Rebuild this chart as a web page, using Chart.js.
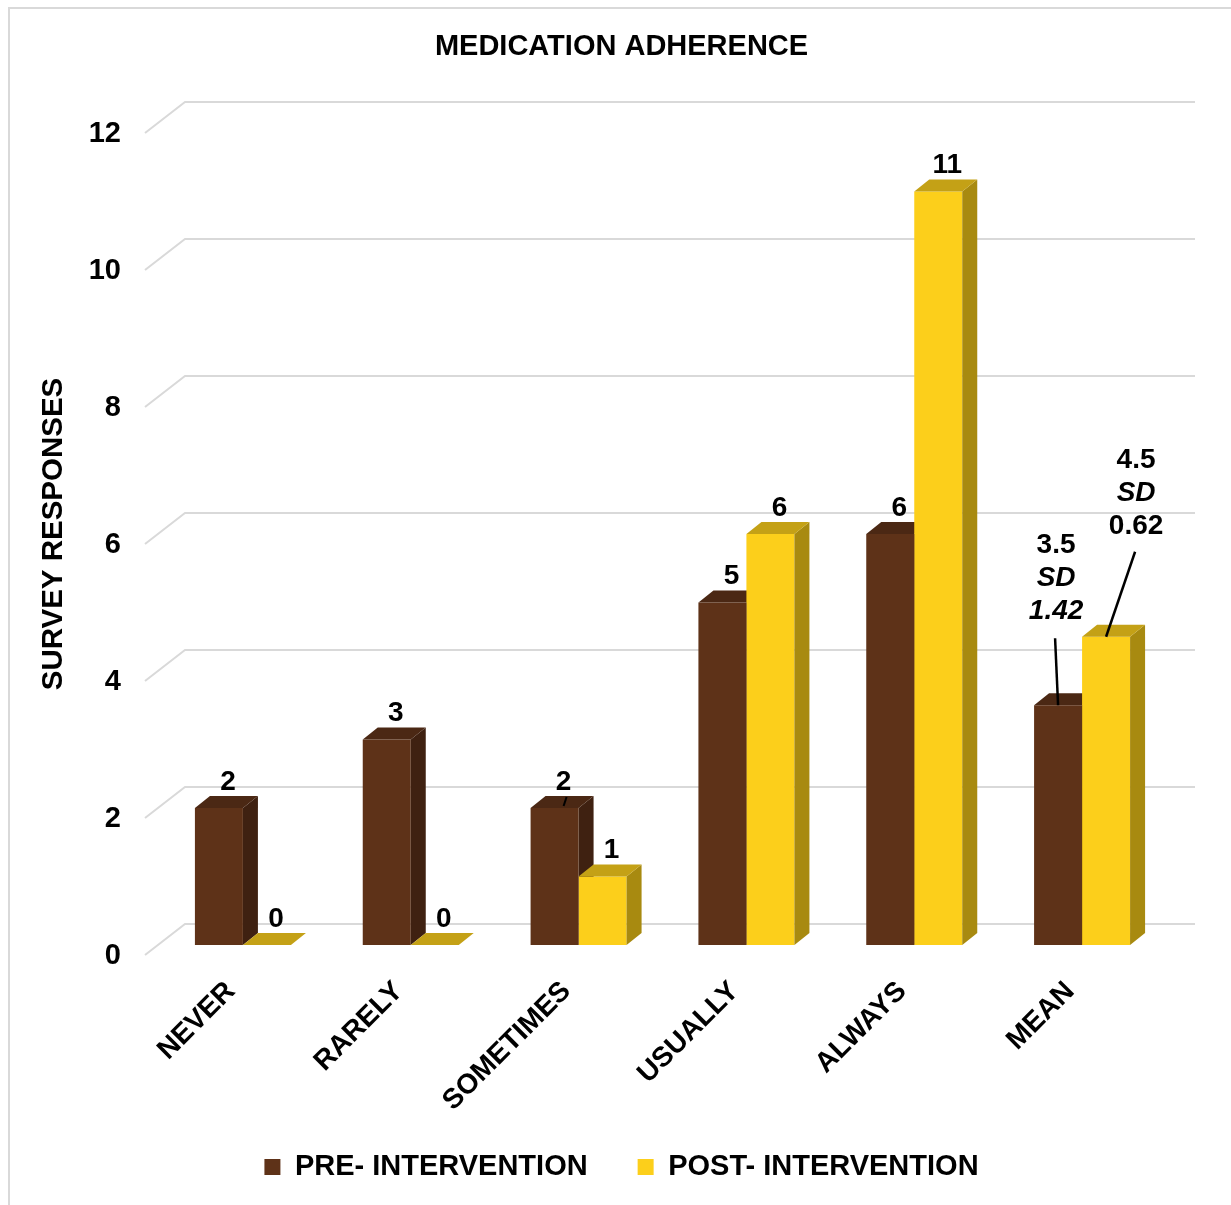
<!DOCTYPE html>
<html>
<head>
<meta charset="utf-8">
<title>Medication adherence</title>
<script src="https://cdn.jsdelivr.net/npm/chart.js@4.4.1/dist/chart.umd.min.js"></script>
<style>
  html, body { margin: 0; padding: 0; background: #fff; overflow: hidden; }
  /* thin frame that shows at the top and left edge of the picture */
  #frame { position: absolute; left: 8px; top: 7px; width: 1240px; height: 1210px;
           border-top: 2px solid #d9d9d9; border-left: 2px solid #d9d9d9; }
  #wrap { position: absolute; left: 0; top: 0; width: 1231px; height: 1205px; }
</style>
</head>
<body>
<div id="frame"></div>
<div id="wrap"><canvas id="chart"></canvas></div>
<script>
// data
const categories = ['NEVER', 'RARELY', 'SOMETIMES', 'USUALLY', 'ALWAYS', 'MEAN'];
const seriesNames = ['PRE- INTERVENTION', 'POST- INTERVENTION'];
const preValues = [2, 3, 2, 5, 6, 3.5];
const postValues = [0, 0, 1, 6, 11, 4.5];
const meanSD = [1.42, 0.62];
const yTicks = [0, 2, 4, 6, 8, 10, 12];

const FONT = '"Liberation Sans", Arial, Helvetica, sans-serif';

// front, side, top colours of the boxes
const preColors = ['#5e3218', '#3f2111', '#4b2814'];
const postColors = ['#fccf1b', '#a88a10', '#c4a116'];

// fake 3D depth of a bar
const depthX = 15, depthY = -12;

Chart.defaults.color = '#000';
Chart.defaults.font.family = FONT;

function face(ctx, pts, color) {
  ctx.beginPath();
  ctx.moveTo(pts[0][0], pts[0][1]);
  for (let i = 1; i < pts.length; i++) ctx.lineTo(pts[i][0], pts[i][1]);
  ctx.closePath();
  ctx.fillStyle = color;
  ctx.fill();
}

// side and top of every bar of one dataset
function drawDepth(chart, index, colors) {
  const ctx = chart.ctx;
  chart.getDatasetMeta(index).data.forEach(bar => {
    const p = bar.getProps(['x', 'y', 'base', 'width'], true);
    const l = p.x - p.width / 2, r = p.x + p.width / 2, t = p.y, b = p.base;
    if (b - t > 0.5) {
      face(ctx, [[r, t], [r + depthX, t + depthY], [r + depthX, b + depthY], [r, b]], colors[1]);
    }
    face(ctx, [[l, t], [l + depthX, t + depthY], [r + depthX, t + depthY], [r, t]], colors[2]);
  });
}

const boxes3d = {
  id: 'boxes3d',
  beforeDatasetsDraw(chart) {
    const ctx = chart.ctx, area = chart.chartArea, y = chart.scales.y;
    ctx.save();
    // back wall gridlines with their slanted part on the left side wall
    ctx.strokeStyle = '#d9d9d9';
    ctx.lineWidth = 2;
    yTicks.forEach(v => {
      const py = y.getPixelForValue(v);
      ctx.beginPath();
      ctx.moveTo(area.left - 14, py + 10);
      ctx.lineTo(area.left + 26, py - 21);
      ctx.lineTo(area.right + 29, py - 21);
      ctx.stroke();
    });
    // pre bars go first so the post bars cover them
    drawDepth(chart, 0, preColors);
    ctx.restore();
  },
  afterDatasetsDraw(chart) {
    const ctx = chart.ctx;
    ctx.save();
    drawDepth(chart, 1, postColors);

    // value labels
    ctx.fillStyle = '#000';
    ctx.textAlign = 'center';
    ctx.textBaseline = 'middle';
    ctx.strokeStyle = '#000';
    const last = categories.length - 1;
    [preValues, postValues].forEach((vals, d) => {
      const bars = chart.getDatasetMeta(d).data;
      vals.forEach((v, i) => {
        if (i === last) return;
        const p = bars[i].getProps(['x', 'y'], true);
        ctx.font = 'bold 28px ' + FONT;
        ctx.fillText(String(v), p.x + 9, p.y - 26);
      });
    });
    // the label of SOMETIMES / pre has a tiny leader in the original
    const sp = chart.getDatasetMeta(0).data[2].getProps(['x', 'y'], true);
    ctx.lineWidth = 2;
    ctx.beginPath();
    ctx.moveTo(sp.x + 12, sp.y - 11);
    ctx.lineTo(sp.x + 9, sp.y - 2);
    ctx.stroke();

    // mean labels with SD and leader lines
    const meanSpec = [
      { lx: -2, ly: -160, sx: -3, sy: -67, italic: [false, true, true] },
      { lx: 30, ly: -176, sx: 29, sy: -85, italic: [false, true, false] }
    ];
    [preValues, postValues].forEach((vals, d) => {
      const p = chart.getDatasetMeta(d).data[last].getProps(['x', 'y'], true);
      const s = meanSpec[d];
      const lines = [String(vals[last]), 'SD', meanSD[d].toFixed(2)];
      lines.forEach((txt, k) => {
        ctx.font = (s.italic[k] ? 'italic ' : '') + 'bold 28px ' + FONT;
        ctx.fillText(txt, p.x + s.lx, p.y + s.ly + k * 33);
      });
      ctx.lineWidth = 2.5;
      ctx.beginPath();
      ctx.moveTo(p.x + s.sx, p.y + s.sy);
      ctx.lineTo(p.x, p.y);
      ctx.stroke();
    });
    ctx.restore();
  }
};

new Chart(document.getElementById('chart'), {
  type: 'bar',
  data: {
    labels: categories,
    datasets: [
      { label: seriesNames[0], data: preValues, yAxisID: 'y', backgroundColor: preColors[0],
        borderWidth: 0, categoryPercentage: 0.572, barPercentage: 1.0 },
      { label: seriesNames[1], data: postValues, yAxisID: 'y', backgroundColor: postColors[0],
        borderWidth: 0, categoryPercentage: 0.572, barPercentage: 1.0 }
    ]
  },
  options: {
    responsive: true,
    maintainAspectRatio: false,
    animation: false,
    layout: { padding: { top: 0, left: 12, right: 0, bottom: 13.5 } },
    plugins: {
      tooltip: { enabled: false },
      title: {
        display: true,
        text: 'MEDICATION ADHERENCE',
        color: '#000',
        font: { size: 29, weight: 'bold' },
        padding: { top: 30, bottom: 58.2 }
      },
      legend: {
        position: 'bottom',
        labels: {
          color: '#000',
          font: { size: 29, weight: 'bold' },
          boxWidth: 16,
          boxHeight: 16,
          padding: 50
        }
      }
    },
    scales: {
      x: {
        grid: { display: false, drawTicks: false },
        border: { display: false },
        ticks: {
          autoSkip: false,
          minRotation: 45,
          maxRotation: 45,
          labelOffset: -12,
          padding: 30,
          color: '#000',
          font: { size: 28, weight: 'bold' }
        },
        afterFit(scale) {
          scale.height = 157.5;
          // long rotated labels reach a bit below the axis box: don't clip them
          scale._computeLabelArea = () => undefined;
        }
      },
      y: {
        position: 'left',
        min: 0,
        max: 12,
        grid: { display: false, drawTicks: false },
        border: { display: false },
        ticks: {
          stepSize: 2,
          padding: 38,
          labelOffset: 11,
          color: '#000',
          font: { size: 29, weight: 'bold' }
        },
        title: {
          display: true,
          text: 'SURVEY RESPONSES',
          color: '#000',
          font: { size: 29.5, weight: 'bold' },
          padding: { top: 24, bottom: 0 }
        },
        afterFit(scale) { scale.width = 147; }
      },
      // empty right-hand axis that only keeps the space right of the floor
      yRight: {
        position: 'right',
        min: 0,
        max: 1,
        grid: { display: false, drawTicks: false },
        border: { display: false },
        ticks: { display: false },
        afterFit(scale) { scale.width = 65; }
      }
    }
  },
  plugins: [boxes3d]
});
</script>
</body>
</html>
